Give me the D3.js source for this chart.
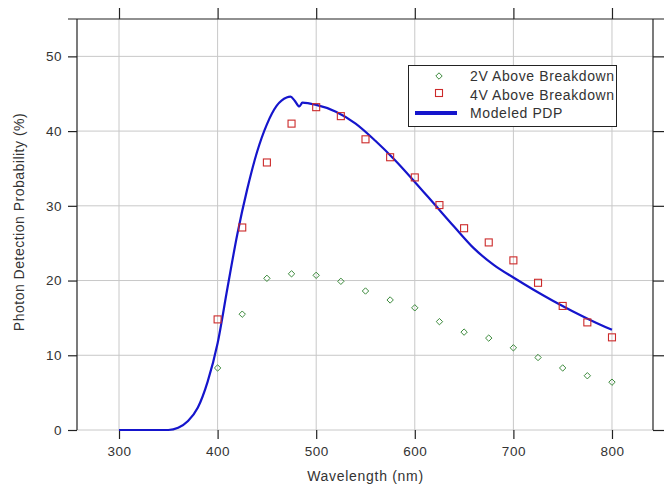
<!DOCTYPE html>
<html><head><meta charset="utf-8">
<script src="https://cdn.jsdelivr.net/npm/d3@7"></script>
<style>body{margin:0;background:#fff}svg{display:block}text{font-family:"Liberation Sans",Arial,sans-serif}</style>
</head><body>
<script>
const wavelengths = [400,425,450,475,500,525,550,575,600,625,650,675,700,725,750,775,800];
const pdp2V = [8.3,15.5,20.3,20.9,20.7,19.9,18.6,17.4,16.35,14.5,13.1,12.3,11.0,9.7,8.3,7.26,6.4];
const pdp4V = [14.8,27.1,35.8,41.0,43.2,42.0,38.9,36.5,33.8,30.1,27.0,25.1,22.7,19.7,16.6,14.4,12.4];
const modelWl = [300,340,350,360,370,380,390,400,410,420,430,440,450,460,470,474,478,483,486,500,520,540,560,580,600,620,640,660,680,700,720,740,760,780,800];
const modelPdp = [0,0,0,0.3,1.2,3.0,6.5,11.6,19.0,26.2,32.2,37.2,40.9,43.4,44.5,44.6,44.1,43.3,43.8,43.5,42.6,41.0,38.7,36.1,33.2,30.2,27.2,24.3,22.1,20.4,18.8,17.3,15.9,14.6,13.4];
const xTicks = [300,400,500,600,700,800];
const yTicks = [0,10,20,30,40,50];
const legendLabels = ["2V Above Breakdown","4V Above Breakdown","Modeled PDP"];

const W=669,H=487;
const svg=d3.select("body").append("svg").attr("width",W).attr("height",H);
const x=d3.scaleLinear().domain([257.4,841.6]).range([77,653]);
const y=d3.scaleLinear().domain([0,55]).range([430,19]);
const grid="#c8c8c8", axisC="#222", txt="#333";

// gridlines
svg.append("g").selectAll("line").data(xTicks).join("line")
  .attr("x1",d=>x(d)).attr("x2",d=>x(d)).attr("y1",y(55)).attr("y2",y(0))
  .attr("stroke",grid).attr("stroke-width",1);
svg.append("g").selectAll("line").data(yTicks).join("line")
  .attr("x1",77).attr("x2",653).attr("y1",d=>y(d)).attr("y2",d=>y(d))
  .attr("stroke",grid).attr("stroke-width",1);

// axes
const fmt=d3.format("d");
const gL=svg.append("g").attr("transform","translate(77,0)").call(d3.axisLeft(y).tickValues(yTicks).tickSize(9).tickPadding(6).tickFormat(fmt));
const gR=svg.append("g").attr("transform","translate(653,0)").call(d3.axisRight(y).tickValues(yTicks).tickSize(11).tickFormat(""));
const gB=svg.append("g").attr("transform","translate(0,430)").call(d3.axisBottom(x).tickValues(xTicks).tickSize(9).tickPadding(7).tickFormat(fmt));
const gT=svg.append("g").attr("transform","translate(0,19)").call(d3.axisTop(x).tickValues(xTicks).tickSize(11).tickFormat(""));
[gL,gR,gB,gT].forEach(g=>{
  g.selectAll("line").attr("stroke",axisC).attr("stroke-width",1.2);
  g.selectAll("text").attr("fill",txt).attr("font-size",13.5).attr("letter-spacing",0.5);
});
gB.select(".domain").remove();
gL.select(".domain").attr("d","M0,"+y(55)+"V"+y(0)).attr("stroke",axisC).attr("stroke-width",1.2);
gR.select(".domain").attr("d","M0,"+y(55)+"V"+y(0)).attr("stroke",axisC).attr("stroke-width",1.2);
gT.select(".domain").attr("d","M-9,0H587").attr("transform","translate(77,0)").attr("stroke",axisC).attr("stroke-width",1.2);

// axis titles
svg.append("text").attr("x",x(550)).attr("y",481).attr("text-anchor","middle").attr("font-size",14).attr("letter-spacing",0.7).attr("fill",txt).text("Wavelength (nm)");
svg.append("text").attr("transform","translate(24,"+222+") rotate(-90)").attr("text-anchor","middle").attr("font-size",14).attr("letter-spacing",0.5).attr("fill",txt).text("Photon Detection Probability (%)");

// model line
const line=d3.line().x((d,i)=>x(modelWl[i])).y(d=>y(d)).curve(d3.curveMonotoneX);
svg.append("path").datum(modelPdp).attr("d",line).attr("fill","none").attr("stroke","#1515cc").attr("stroke-width",2.2);

// 2V diamonds
const diamond=d3.symbol().type(d3.symbolDiamond2).size(26);
svg.append("g").selectAll("path").data(pdp2V).join("path")
  .attr("d",diamond).attr("transform",(d,i)=>`translate(${x(wavelengths[i])},${y(d)})`)
  .attr("fill","none").attr("stroke","#3c8a3c").attr("stroke-width",1);
// 4V squares
svg.append("g").selectAll("rect").data(pdp4V).join("rect")
  .attr("x",(d,i)=>x(wavelengths[i])-3.5).attr("y",d=>y(d)-3.5).attr("width",7).attr("height",7)
  .attr("fill","none").attr("stroke","#cc2a2a").attr("stroke-width",1.1);

// legend
const lg=svg.append("g");
lg.append("rect").attr("x",408.5).attr("y",65.5).attr("width",208).attr("height",61).attr("fill","#fff").attr("stroke","#222").attr("stroke-width",1);
lg.append("path").attr("d",diamond).attr("transform","translate(439,76)").attr("fill","none").attr("stroke","#3c8a3c");
lg.append("rect").attr("x",435.5).attr("y",89.5).attr("width",7).attr("height",7).attr("fill","none").attr("stroke","#cc2a2a").attr("stroke-width",1.1);
lg.append("line").attr("x1",415).attr("x2",457).attr("y1",113).attr("y2",113).attr("stroke","#1515cc").attr("stroke-width",4);
lg.selectAll("text").data(legendLabels).join("text")
  .attr("x",470).attr("y",(d,i)=>81+i*18.5).attr("font-size",14).attr("letter-spacing",0.6).attr("fill",txt).text(d=>d);
</script>
</body></html>
